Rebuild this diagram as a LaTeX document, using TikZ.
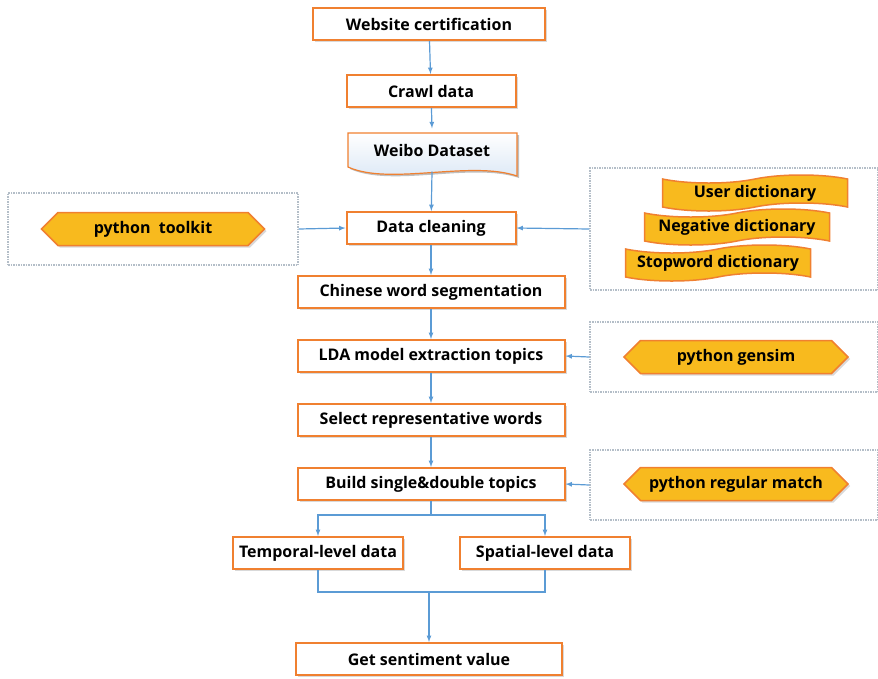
\documentclass[tikz,border=0pt]{standalone}
\usepackage{fontspec}
\setmainfont{Open Sans}
\usetikzlibrary{calc,arrows,positioning,shapes.symbols,shadows}

\definecolor{boxorange}{HTML}{F08030}
\definecolor{flowblue}{HTML}{5B9BD5}
\definecolor{toolgold}{HTML}{F8BA1E}
\definecolor{framegray}{HTML}{B4BEC8}
\definecolor{docblue}{HTML}{D6E4F4}

\tikzset{
  stepbox/.style={draw=boxorange,line width=2pt,fill=white,minimum height=32pt,
    inner sep=2pt,drop shadow={shadow xshift=2pt,shadow yshift=-2pt,opacity=0.3}},
  toolhex/.style={signal,signal to=east and west,signal pointer angle=90,draw=boxorange,
    line width=1.5pt,fill=toolgold,minimum height=33pt,inner sep=2pt,
    drop shadow={shadow xshift=2pt,shadow yshift=-2pt,opacity=0.3}},
  dicttape/.style={tape,tape bend top=in and out,tape bend bottom=in and out,
    tape bend height=8pt,draw=boxorange,line width=1.5pt,fill=toolgold,
    minimum width=185pt,minimum height=33pt,inner sep=2pt},
  toolframe/.style={draw=framegray,densely dotted,line width=1.5pt},
  flow/.style={draw=flowblue,line width=1.2pt},
  every node/.style={font=\fontsize{16}{18}\selectfont\bfseries}
}

\begin{document}
\begin{tikzpicture}[x=1pt,y=-1pt]
    \useasboundingbox (0,0) rectangle (878,678);
    % frames round the tools
    \node[toolframe,minimum width=290pt,minimum height=72pt] (framel) at (153,229) {};
    \node[toolframe,minimum width=288pt,minimum height=122pt] (framea) at (734,229) {};
    \node[toolframe,minimum width=288pt,minimum height=70pt] (frameb) at (734,357) {};
    \node[toolframe,minimum width=288pt,minimum height=70pt] (framec) at (734,485) {};
    % main steps
    \node[stepbox,minimum width=232pt] (cert) at (429,24) {Website certification};
    \node[stepbox,minimum width=169pt] (crawl) at (431,91) {Crawl data};
    \node[minimum width=169pt,minimum height=43pt] (weibo) at (432,150) {};
    \fill[black,opacity=0.25,xshift=2pt,yshift=-2pt] (348,133) -- (517,133) -- (517,176)
        .. controls (470,160) and (390,186) .. (348,167) -- cycle;
    \shade[top color=white,bottom color=docblue,draw=boxorange,line width=1.2pt]
        (348,133) -- (517,133) -- (517,176)
        .. controls (470,160) and (390,186) .. (348,167) -- cycle;
    \node at (432,150) {Weibo Dataset};
    \node[stepbox,minimum width=169pt] (clean) at (431,228) {Data cleaning};
    \node[stepbox,minimum width=267pt] (seg) at (431,292) {Chinese word segmentation};
    \node[stepbox,minimum width=267pt] (lda) at (431,356) {LDA model extraction topics};
    \node[stepbox,minimum width=267pt] (select) at (431,420) {Select representative words};
    \node[stepbox,minimum width=267pt] (build) at (431,484) {Build single\&double topics};
    \node[stepbox,minimum width=170pt] (temporal) at (318,553) {Temporal-level data};
    \node[stepbox,minimum width=170pt] (spatial) at (545,553) {Spatial-level data};
    \node[stepbox,minimum width=266pt] (getval) at (429,659) {Get sentiment value};
    % tools
    \node[toolhex,minimum width=223pt] (toolkit) at (153,229) {python~~toolkit};
    \node[dicttape] (userdict) at (755,193) {User dictionary};
    \node[dicttape] (negdict) at (737,227) {Negative dictionary};
    \node[dicttape] (stopdict) at (718,263) {Stopword dictionary};
    \node[toolhex,minimum width=224pt] (gensim) at (736,357) {python gensim};
    \node[toolhex,minimum width=224pt] (regmatch) at (736,484) {python regular match};
    % connectors
    \draw[flow,-latex] (cert) -- (crawl);
    \draw[flow,-latex] (crawl) -- (weibo.north);
    \draw[flow,-latex] (weibo.south) -- (clean);
    \draw[flow,-latex] (clean) -- (seg);
    \draw[flow,-latex] (seg) -- (lda);
    \draw[flow,-latex] (lda) -- (select);
    \draw[flow,-latex] (select) -- (build);
    \draw[flow,-latex] (framel.east) -- (clean.west);
    \draw[flow,-latex] (framea.west) -- (clean.east);
    \draw[flow,-latex] (frameb.west) -- (lda.east);
    \draw[flow,-latex] (framec.west) -- (build.east);
    \coordinate (split) at (431,515);
    \coordinate (merge) at (429,592);
    \draw[flow] (build.south) -- (split);
    \draw[flow,-latex] (split) -| (temporal.north);
    \draw[flow,-latex] (split) -| (spatial.north);
    \draw[flow] (temporal.south) |- (merge) -| (spatial.south);
    \draw[flow,-latex] (merge) -- (getval.north);
\end{tikzpicture}
\end{document}
